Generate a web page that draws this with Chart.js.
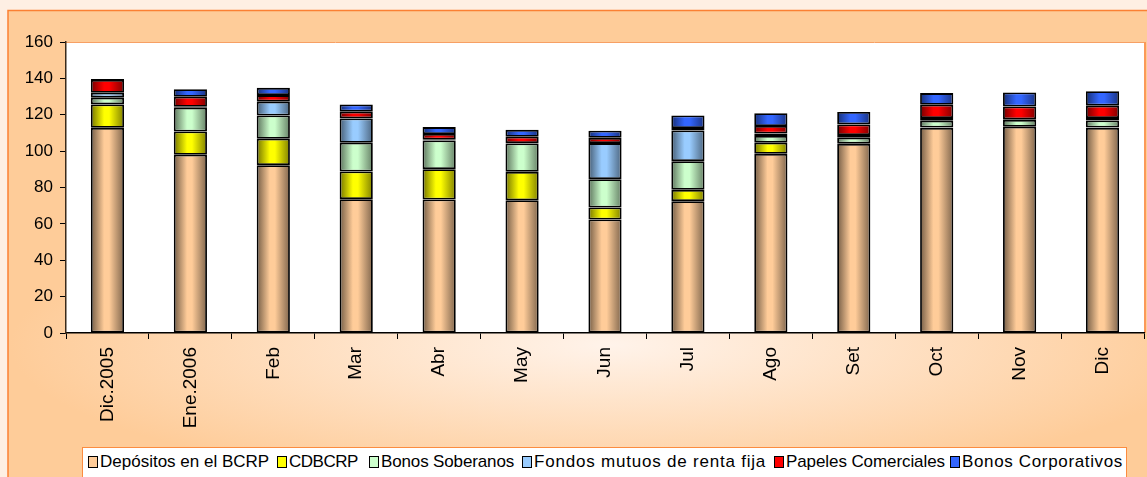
<!DOCTYPE html>
<html>
<head>
<meta charset="utf-8">
<script src="https://cdn.jsdelivr.net/npm/chart.js@4.4.1/dist/chart.umd.min.js"></script>
<style>
    html, body { margin: 0; padding: 0; background: #feefe3; overflow: hidden; }
    #wrap { position: relative; width: 1147px; height: 477px; }
    #legend {
        position: absolute; left: 82px; top: 447px; width: 1045px; height: 40px;
        background: #ffffff; border: 1px solid #fb8c40; box-sizing: border-box;
        font-family: "Liberation Sans", Arial, sans-serif; font-size: 17px; color: #000;
        line-height: 28px; white-space: nowrap;
    }
    #legend span.item { position: absolute; top: 0; }
    #legend span.sw {
        display: inline-block; width: 8px; height: 10px; border: 1px solid #000;
        margin-right: 2px; vertical-align: -1px;
    }
</style>
</head>
<body>
<div id="wrap">
    <canvas id="chart" width="1147" height="477"></canvas>
    <div id="legend"></div>
</div>
<script>
// Categories and series (millones)
const months = ['Dic.2005', 'Ene.2006', 'Feb', 'Mar', 'Abr', 'May', 'Jun', 'Jul', 'Ago', 'Set', 'Oct', 'Nov', 'Dic'];
const depositos = [112.8, 98.0, 92.3, 73.6, 73.4, 73.0, 62.4, 72.5, 98.5, 103.9, 112.8, 113.4, 112.8];
const cdbcrp = [12.9, 12.8, 14.5, 15.2, 16.7, 15.6, 6.6, 6.2, 6.1, 0.2, 0.2, 0, 0.2];
const soberanos = [3.7, 13.1, 12.8, 15.8, 15.8, 15.6, 15.6, 15.8, 3.7, 3.3, 3.7, 3.7, 3.9];
const fondos = [2.7, 0.5, 7.6, 13.4, 0.4, 0.3, 19.8, 16.9, 1.4, 1.4, 1.5, 0.4, 1.3];
const papeles = [7.0, 5.5, 3.6, 3.7, 3.1, 3.4, 2.9, 1.3, 4.1, 5.9, 7.3, 7.0, 6.8];
const corporativos = [0.6, 4.1, 4.0, 4.0, 3.8, 3.8, 3.9, 6.9, 7.0, 6.8, 6.4, 7.7, 7.9];
const yTicks = [0, 20, 40, 60, 80, 100, 120, 140, 160];

const seriesNames = ['Depósitos en el BCRP', 'CDBCRP', 'Bonos Soberanos', 'Fondos mutuos de renta fija', 'Papeles Comerciales', 'Bonos Corporativos'];
const seriesValues = [depositos, cdbcrp, soberanos, fondos, papeles, corporativos];
const seriesColors = ['#ffcc99', '#ffff00', '#ccffcc', '#99ccff', '#ff0000', '#3366ff'];

// legend item start / end x (page px)
const legendStart = [88, 277, 369, 522, 774, 950];
const legendEnd = [270, 358, 514, 766, 945, 1123];

const BAR_PCT = 0.4;

// darken a hex colour by factor f
function shade(hex, f) {
    const c = hex.replace('#', '');
    const r = Math.round(parseInt(c.substring(0, 2), 16) * f);
    const g = Math.round(parseInt(c.substring(2, 4), 16) * f);
    const b = Math.round(parseInt(c.substring(4, 6), 16) * f);
    return `rgb(${r}, ${g}, ${b})`;
}

// horizontal shaded fill like the old Excel bars
function barFill(base) {
    return function(context) {
        const chart = context.chart;
        const xs = chart.scales.x;
        if (!chart.chartArea || !xs || context.dataIndex === undefined) return base;
        const cx = xs.getPixelForValue(context.dataIndex);
        const w = chart.chartArea.width / months.length * BAR_PCT;
        const g = chart.ctx.createLinearGradient(cx - w / 2, 0, cx + w / 2, 0);
        g.addColorStop(0, shade(base, 0.45));
        g.addColorStop(0.4, base);
        g.addColorStop(0.55, base);
        g.addColorStop(1, shade(base, 0.5));
        return g;
    };
}

// background box, plot area and its borders
const framePlugin = {
    id: 'frame',
    beforeDraw(chart) {
        const ctx = chart.ctx;
        const a = chart.chartArea;
        ctx.save();
        ctx.fillStyle = '#feefe3';
        ctx.fillRect(0, 0, chart.width, chart.height);

        ctx.save();
        ctx.beginPath();
        ctx.rect(8, 10, chart.width, chart.height);
        ctx.clip();
        ctx.translate(610, 345);
        ctx.scale(1, 0.24);
        const rg = ctx.createRadialGradient(0, 0, 0, 0, 0, 600);
        rg.addColorStop(0, '#fff3ea');
        rg.addColorStop(1, '#fecc99');
        ctx.fillStyle = rg;
        ctx.fillRect(-2000, -4000, 4000, 8000);
        ctx.restore();

        ctx.strokeStyle = '#fb8033';
        ctx.lineWidth = 1.5;
        ctx.strokeRect(8, 10.5, chart.width + 10, chart.height + 10);

        ctx.fillStyle = '#ffffff';
        ctx.fillRect(a.left, a.top, a.width, a.height);
        ctx.strokeStyle = '#f7a064';
        ctx.lineWidth = 1;
        ctx.beginPath();
        ctx.moveTo(a.left, a.top + 0.5);
        ctx.lineTo(a.right, a.top + 0.5);
        ctx.stroke();
        ctx.lineWidth = 2;
        ctx.strokeStyle = '#fb9a58';
        ctx.beginPath();
        ctx.moveTo(a.right + 1, a.top);
        ctx.lineTo(a.right + 1, a.bottom);
        ctx.stroke();
        ctx.restore();
    }
};

const datasets = seriesNames.map((name, i) => ({
    label: name,
    data: seriesValues[i],
    backgroundColor: barFill(seriesColors[i]),
    borderColor: '#000000',
    borderWidth: 1.8,
    borderSkipped: false,
    barPercentage: BAR_PCT,
    categoryPercentage: 1
}));

const fontFamily = '"Liberation Sans", Arial, sans-serif';

new Chart(document.getElementById('chart'), {
    type: 'bar',
    data: { labels: months, datasets: datasets },
    options: {
        responsive: false,
        animation: false,
        layout: { padding: { left: 0, top: 42, right: 3, bottom: 0 } },
        plugins: {
            legend: { display: false },
            tooltip: { enabled: false }
        },
        scales: {
            x: {
                stacked: true,
                offset: true,
                afterFit: function(scale) { scale.height = 144; },
                grid: {
                    offset: true,
                    drawOnChartArea: false,
                    color: '#000000',
                    tickLength: 6
                },
                border: { color: '#000000', width: 1.5 },
                ticks: {
                    color: '#000000',
                    font: { family: fontFamily, size: 19 },
                    minRotation: 90,
                    maxRotation: 90,
                    padding: 8,
                    autoSkip: false
                }
            },
            y: {
                stacked: true,
                min: 0,
                max: 160,
                afterFit: function(scale) { scale.width = 66; },
                afterBuildTicks: function(scale) { scale.ticks = yTicks.map(v => ({ value: v })); },
                grid: {
                    drawOnChartArea: false,
                    color: '#000000',
                    tickLength: 6
                },
                border: { color: '#3a2a1a', width: 1.5 },
                ticks: {
                    color: '#000000',
                    font: { family: fontFamily, size: 17 },
                    padding: 7
                }
            }
        }
    },
    plugins: [framePlugin]
});

// legend built from the same series lists, stretched to the reference spans
const legend = document.getElementById('legend');
const legendLeft = 82 + 1;
seriesNames.forEach((name, i) => {
    const item = document.createElement('span');
    item.className = 'item';
    item.style.left = (legendStart[i] - legendLeft) + 'px';
    const sw = document.createElement('span');
    sw.className = 'sw';
    sw.style.background = seriesColors[i];
    const txt = document.createElement('span');
    txt.textContent = name;
    item.appendChild(sw);
    item.appendChild(txt);
    legend.appendChild(item);
    const natural = item.getBoundingClientRect().right;
    const extra = legendEnd[i] - natural;
    if (Math.abs(extra) > 1) {
        txt.style.letterSpacing = (extra / name.length).toFixed(2) + 'px';
    }
});
</script>
</body>
</html>
